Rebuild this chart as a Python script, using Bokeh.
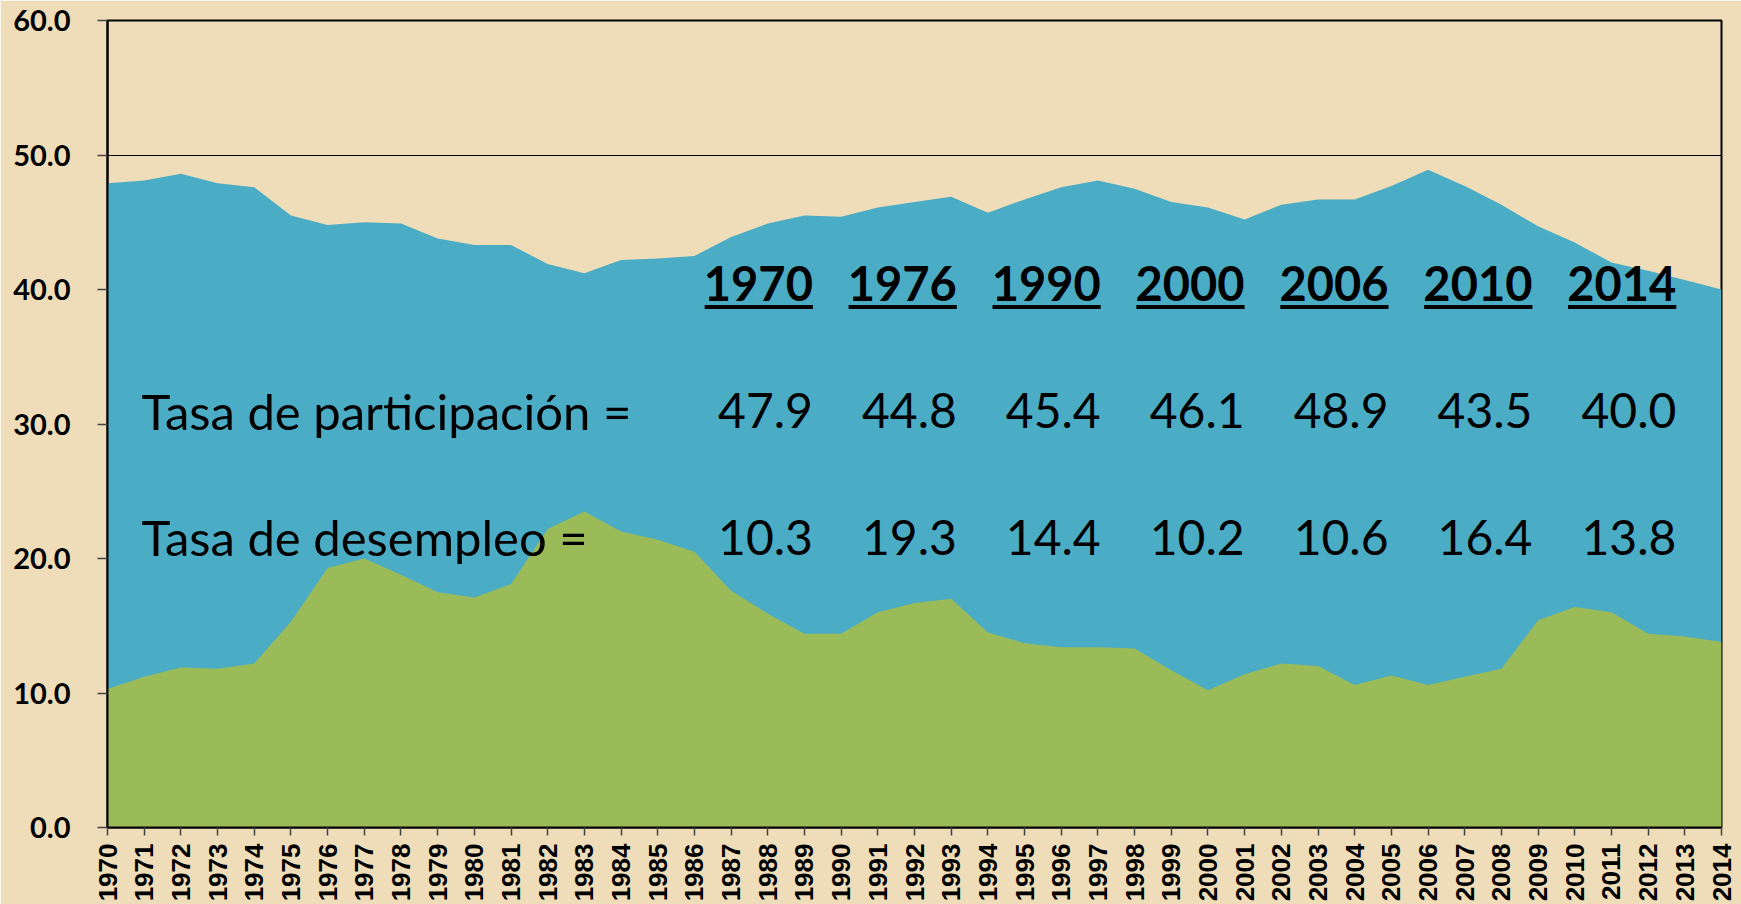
from bokeh.plotting import figure
from bokeh.models import FixedTicker, NumeralTickFormatter, Range1d
from bokeh.core.properties import value
from bokeh.embed import file_html
from bokeh.resources import INLINE
import math

years = list(range(1970, 2015))
participacion = [47.9, 48.1, 48.6, 47.9, 47.6, 45.5, 44.8, 45.0, 44.9, 43.8,
                 43.3, 43.3, 41.9, 41.2, 42.2, 42.3, 42.5, 43.9, 44.9, 45.5,
                 45.4, 46.1, 46.5, 46.9, 45.7, 46.7, 47.6, 48.1, 47.5, 46.5,
                 46.1, 45.2, 46.3, 46.7, 46.7, 47.7, 48.9, 47.7, 46.3, 44.7,
                 43.5, 42.0, 41.4, 40.7, 40.0]
desempleo = [10.3, 11.2, 11.9, 11.8, 12.2, 15.3, 19.3, 20.0, 18.8, 17.5,
             17.1, 18.1, 22.2, 23.5, 22.0, 21.4, 20.5, 17.6, 15.9, 14.4,
             14.4, 16.0, 16.7, 17.0, 14.5, 13.7, 13.4, 13.4, 13.3, 11.7,
             10.2, 11.4, 12.2, 12.0, 10.6, 11.3, 10.6, 11.2, 11.8, 15.4,
             16.4, 16.0, 14.4, 14.2, 13.8]

tabla_anios = ["1970", "1976", "1990", "2000", "2006", "2010", "2014"]
tabla_part = ["47.9", "44.8", "45.4", "46.1", "48.9", "43.5", "40.0"]
tabla_desem = ["10.3", "19.3", "14.4", "10.2", "10.6", "16.4", "13.8"]
etiquetas = ["Tasa de participación =", "Tasa de desempleo ="]

BG = "#EEDDB8"
BLUE = "#4BACC6"
GREEN = "#9BBB59"

p = figure(width=1741, height=904, output_backend="svg", toolbar_location=None,
           x_range=Range1d(1970, 2014), y_range=Range1d(0, 60),
           min_border_left=107, min_border_right=20, min_border_top=20, min_border_bottom=72)
p.background_fill_color = BG
p.border_fill_color = BG
p.outline_line_color = "black"
p.outline_line_width = 2

p.varea(x=years, y1=0, y2=participacion, fill_color=BLUE)
p.varea(x=years, y1=0, y2=desempleo, fill_color=GREEN)

# axes
p.xaxis.ticker = FixedTicker(ticks=years)
p.xaxis.major_label_orientation = math.pi / 2
p.xaxis.major_label_text_font = "Liberation Sans"
p.xaxis.major_label_text_font_style = "bold"
p.xaxis.major_label_text_font_size = "26px"
p.xaxis.major_label_text_color = "black"
p.xaxis.major_label_standoff = 8
p.xaxis.major_tick_out = 8
p.xaxis.major_tick_in = 0
p.xaxis.minor_tick_line_color = None

p.yaxis.ticker = FixedTicker(ticks=[0, 10, 20, 30, 40, 50, 60])
p.yaxis.formatter = NumeralTickFormatter(format="0.0")
p.yaxis.major_label_text_font = "Lato"
p.yaxis.major_label_text_font_style = "bold"
p.yaxis.major_label_text_font_size = "29px"
p.yaxis.major_label_text_color = "black"
p.yaxis.major_label_standoff = 27
p.yaxis.major_tick_out = 10
p.yaxis.major_tick_in = 0
p.yaxis.minor_tick_line_color = None

for ax in (p.xaxis, p.yaxis):
    ax.axis_line_color = "black"
    ax.axis_line_width = 2
    ax.major_tick_line_color = "#444444"
    ax.major_tick_line_width = 1.5

p.xgrid.grid_line_color = None
p.ygrid.grid_line_color = "black"
p.ygrid.grid_line_width = 1
p.ygrid.ticker = FixedTicker(ticks=[50, 60])

# table text (right-aligned columns)
col_right = [1989.23 + i * 3.923 for i in range(len(tabla_anios))]
n = len(col_right)
p.text(x=col_right, y=[40.43] * n, text=tabla_anios,
       text_font=value("Lato"), text_font_style="bold", text_font_size="47px",
       text_align="right", text_baseline="alphabetic", text_color="black")
p.segment(x0=[c - 2.95 for c in col_right], y0=[38.7] * n,
          x1=col_right, y1=[38.7] * n, line_color="black", line_width=4)
p.text(x=col_right, y=[30.98] * n, text=tabla_part,
       text_font=value("Lato"), text_font_size="48px",
       text_align="right", text_baseline="alphabetic", text_color="black")
p.text(x=col_right, y=[21.58] * n, text=tabla_desem,
       text_font=value("Lato"), text_font_size="48px",
       text_align="right", text_baseline="alphabetic", text_color="black")
p.text(x=[1970.93, 1970.93], y=[30.98, 21.58], text=etiquetas,
       text_font=value("Lato"), text_font_size="49px",
       text_align="left", text_baseline="alphabetic", text_color="black")

html = file_html(p, INLINE)
html = html.replace("<body>", '<body style="background:%s">' % BG, 1)
open("out.html", "w").write(html)
